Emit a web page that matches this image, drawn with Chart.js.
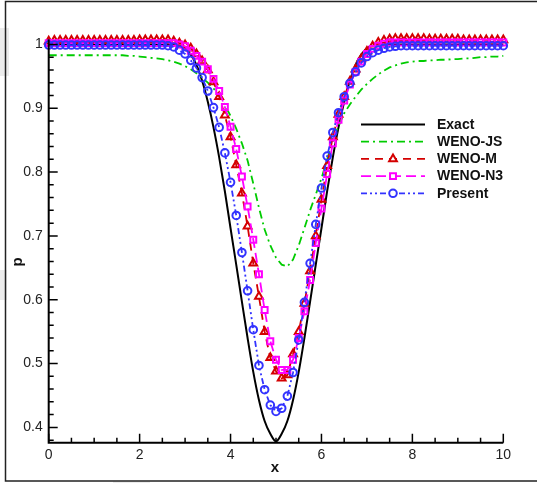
<!DOCTYPE html>
<html lang="en">
<head>
  <meta charset="UTF-8">
  <title>Density profile</title>
  <script src="https://cdn.jsdelivr.net/npm/chart.js@4.4.0/dist/chart.umd.min.js"></script>
  <style>
    html, body { margin: 0; padding: 0; background: #fff; }
    #wrap { width: 537px; height: 483px; }
  </style>
</head>
<body>
<div id="wrap"><canvas id="rhoChart" width="537" height="483"></canvas></div>
<script>
// grid points (dx = 0.125)
const xGrid = [
  0, 0.125, 0.25, 0.375, 0.5, 0.625, 0.75, 0.875, 1, 1.125,
  1.25, 1.375, 1.5, 1.625, 1.75, 1.875, 2, 2.125, 2.25, 2.375,
  2.5, 2.625, 2.75, 2.875, 3, 3.125, 3.25, 3.375, 3.5, 3.625,
  3.75, 3.875, 4, 4.125, 4.25, 4.375, 4.5, 4.625, 4.75, 4.875,
  5, 5.125, 5.25, 5.375, 5.5, 5.625, 5.75, 5.875, 6, 6.125,
  6.25, 6.375, 6.5, 6.625, 6.75, 6.875, 7, 7.125, 7.25, 7.375,
  7.5, 7.625, 7.75, 7.875, 8, 8.125, 8.25, 8.375, 8.5, 8.625,
  8.75, 8.875, 9, 9.125, 9.25, 9.375, 9.5, 9.625, 9.75, 9.875,
  10
];

const exactRho = [
  1, 1, 1, 1, 1, 1, 1, 1, 1, 1,
  1, 1, 1, 1, 1, 1, 1, 1, 1, 1,
  1, 1, 1, 0.998, 0.994, 0.984, 0.968, 0.943, 0.91, 0.87,
  0.823, 0.77, 0.712, 0.655, 0.597, 0.54, 0.487, 0.443, 0.41, 0.39,
  0.378, 0.39, 0.41, 0.443, 0.487, 0.54, 0.597, 0.655, 0.712, 0.77,
  0.823, 0.87, 0.91, 0.943, 0.968, 0.984, 0.994, 0.998, 1, 1,
  1, 1, 1, 1, 1, 1, 1, 1, 1, 1,
  1, 1, 1, 1, 1, 1, 1, 1, 1, 1,
  1
];

const wenoJS = [
  0.983, 0.983, 0.983, 0.983, 0.983, 0.983, 0.983, 0.983, 0.983, 0.983,
  0.983, 0.983, 0.983, 0.983, 0.982, 0.982, 0.981, 0.98, 0.979, 0.978,
  0.977, 0.975, 0.973, 0.97, 0.966, 0.961, 0.955, 0.948, 0.94, 0.931,
  0.92, 0.905, 0.888, 0.868, 0.845, 0.818, 0.782, 0.744, 0.71, 0.685,
  0.666, 0.655, 0.652, 0.663, 0.685, 0.712, 0.74, 0.765, 0.79, 0.82,
  0.848, 0.872, 0.892, 0.906, 0.918, 0.929, 0.938, 0.946, 0.953, 0.959,
  0.964, 0.967, 0.97, 0.972, 0.973, 0.974, 0.974, 0.975, 0.975, 0.976,
  0.976, 0.977, 0.977, 0.978, 0.978, 0.979, 0.98, 0.98, 0.981, 0.981,
  0.982
];

const wenoM = [
  1.005, 1.006, 1.006, 1.006, 1.006, 1.006, 1.006, 1.006, 1.006, 1.006,
  1.006, 1.006, 1.006, 1.006, 1.006, 1.006, 1.007, 1.007, 1.007, 1.007,
  1.007, 1.007, 1.005, 1.002, 0.999, 0.994, 0.985, 0.974, 0.96, 0.941,
  0.918, 0.889, 0.855, 0.811, 0.767, 0.715, 0.657, 0.605, 0.55, 0.509,
  0.488, 0.477, 0.482, 0.515, 0.55, 0.594, 0.645, 0.7, 0.757, 0.81,
  0.855, 0.89, 0.918, 0.942, 0.961, 0.977, 0.989, 0.997, 1.003, 1.006,
  1.008, 1.009, 1.009, 1.009, 1.009, 1.009, 1.009, 1.008, 1.008, 1.008,
  1.008, 1.008, 1.008, 1.007, 1.007, 1.007, 1.007, 1.007, 1.007, 1.007,
  1.007
];

const wenoN3 = [
  1.002, 1.002, 1.002, 1.002, 1.002, 1.002, 1.002, 1.002, 1.002, 1.002,
  1.002, 1.002, 1.002, 1.002, 1.002, 1.002, 1.002, 1.002, 1.002, 1.002,
  1.002, 1.002, 1.002, 1.0, 0.997, 0.99, 0.982, 0.973, 0.961, 0.946,
  0.927, 0.902, 0.871, 0.836, 0.793, 0.746, 0.694, 0.64, 0.584, 0.535,
  0.506, 0.49, 0.49, 0.506, 0.54, 0.582, 0.631, 0.689, 0.743, 0.797,
  0.845, 0.882, 0.912, 0.937, 0.957, 0.973, 0.985, 0.993, 0.998, 1.001,
  1.003, 1.003, 1.003, 1.003, 1.003, 1.003, 1.003, 1.003, 1.003, 1.003,
  1.003, 1.003, 1.003, 1.003, 1.003, 1.003, 1.003, 1.003, 1.003, 1.003,
  1.003
];

const present = [
  0.999, 0.999, 0.999, 0.999, 0.999, 0.999, 0.999, 0.999, 0.999, 0.999,
  0.999, 0.999, 0.999, 0.999, 0.999, 0.999, 0.999, 0.999, 0.999, 0.999,
  0.999, 0.998, 0.996, 0.991, 0.985, 0.975, 0.963, 0.948, 0.927, 0.901,
  0.87, 0.83, 0.784, 0.732, 0.674, 0.614, 0.553, 0.497, 0.459, 0.435,
  0.425, 0.43, 0.449, 0.486, 0.537, 0.596, 0.657, 0.718, 0.775, 0.825,
  0.862, 0.893, 0.918, 0.939, 0.957, 0.971, 0.981, 0.987, 0.991, 0.994,
  0.996, 0.997, 0.998, 0.998, 0.998, 0.998, 0.998, 0.998, 0.998, 0.998,
  0.998, 0.998, 0.998, 0.998, 0.998, 0.998, 0.998, 0.998, 0.998, 0.998,
  0.998
];

const seriesNames = ['Exact', 'WENO-JS', 'WENO-M', 'WENO-N3', 'Present'];
const xTickValues = [0, 2, 4, 6, 8, 10];
const yTickValues = [0.4, 0.5, 0.6, 0.7, 0.8, 0.9, 1];

const toPoints = ys => xGrid.map((x, i) => ({ x: x, y: ys[i] }));
const hollow = 'rgba(0,0,0,0)';

// background, light page shading and outer frame
const framePlugin = {
  id: 'frame',
  beforeDraw(chart) {
    const ctx = chart.ctx;
    ctx.save();
    ctx.fillStyle = '#fff';
    ctx.fillRect(0, 0, chart.width, chart.height);
    ctx.fillStyle = '#ececec';
    ctx.fillRect(0, 28, 9, 48);
    ctx.fillRect(0, 270, 7, 30);
    ctx.fillRect(50, 0, 40, 2);
    ctx.fillRect(113, 481, 37, 2);
    ctx.strokeStyle = '#222';
    ctx.lineWidth = 1.5;
    ctx.beginPath();
    ctx.moveTo(537, 1.5);
    ctx.lineTo(5.5, 1.5);
    ctx.lineTo(5.5, 481);
    ctx.lineTo(537, 481);
    ctx.stroke();
    ctx.restore();
  }
};

// left/bottom axis lines with inward major and minor ticks, axis titles
const axesPlugin = {
  id: 'axesInward',
  afterDatasetsDraw(chart) {
    const { ctx, chartArea: a, scales: { x, y } } = chart;
    ctx.save();
    ctx.strokeStyle = '#000';
    ctx.lineWidth = 2;
    ctx.beginPath();
    ctx.moveTo(a.left, a.top);
    ctx.lineTo(a.left, a.bottom);
    ctx.lineTo(a.right, a.bottom);
    ctx.stroke();

    ctx.lineWidth = 1.5;
    ctx.beginPath();
    for (let v = 0; v <= 10.001; v += 0.5) {
      const px = x.getPixelForValue(v);
      const len = xTickValues.some(t => Math.abs(t - v) < 1e-6) ? 9 : 5;
      ctx.moveTo(px, a.bottom);
      ctx.lineTo(px, a.bottom - len);
    }
    for (let k = 19; k <= 50; k++) {
      const v = k * 0.02;
      const py = y.getPixelForValue(v);
      const len = yTickValues.some(t => Math.abs(t - v) < 1e-6) ? 9 : 5;
      ctx.moveTo(a.left, py);
      ctx.lineTo(a.left + len, py);
    }
    ctx.stroke();

    ctx.fillStyle = '#111';
    ctx.font = 'bold 15px "Liberation Sans", Arial, sans-serif';
    ctx.textAlign = 'center';
    ctx.textBaseline = 'middle';
    ctx.fillText('x', 275, 468);
    ctx.translate(18, 262);
    ctx.rotate(-Math.PI / 2);
    ctx.fillText('p', 0, 0);
    ctx.restore();
  }
};

// legend block inside the plot
const legendPlugin = {
  id: 'legendBlock',
  afterDraw(chart) {
    const ctx = chart.ctx;
    const x0 = 361, x1 = 425, tx = 437, top = 124.5, step = 17.2;
    chart.data.datasets.forEach((ds, i) => {
      const yy = top + i * step;
      ctx.save();
      ctx.strokeStyle = ds.borderColor;
      ctx.lineWidth = ds.borderWidth;
      ctx.setLineDash(ds.borderDash || []);
      ctx.beginPath();
      ctx.moveTo(x0, yy);
      ctx.lineTo(x1, yy);
      ctx.stroke();
      if (ds.pointRadius > 0) {
        ctx.setLineDash([]);
        ctx.fillStyle = '#fff';
        ctx.lineWidth = ds.pointBorderWidth;
        Chart.helpers.drawPoint(ctx, {
          pointStyle: ds.pointStyle, radius: ds.pointRadius,
          borderWidth: ds.pointBorderWidth, rotation: 0
        }, (x0 + x1) / 2, yy);
      }
      ctx.fillStyle = '#111';
      ctx.font = 'bold 14px "Liberation Sans", Arial, sans-serif';
      ctx.textAlign = 'left';
      ctx.textBaseline = 'middle';
      ctx.fillText(ds.label, tx, yy + 0.5);
      ctx.restore();
    });
  }
};

Chart.defaults.font.family = '"Liberation Sans", Arial, sans-serif';
Chart.defaults.font.size = 14;
Chart.defaults.color = '#222';

new Chart(document.getElementById('rhoChart'), {
  type: 'line',
  data: {
    datasets: [
      {
        label: seriesNames[0], data: toPoints(exactRho),
        borderColor: '#000', borderWidth: 2, pointRadius: 0,
        cubicInterpolationMode: 'monotone', order: 4
      },
      {
        label: seriesNames[1], data: toPoints(wenoJS),
        borderColor: '#00cc00', borderWidth: 1.8, borderDash: [8, 4, 2, 4],
        pointRadius: 0, order: 3
      },
      {
        label: seriesNames[2], data: toPoints(wenoM),
        borderColor: '#d40000', borderWidth: 1.8, borderDash: [8, 6],
        pointStyle: 'triangle', pointRadius: 4.5, pointBorderWidth: 2,
        pointBorderColor: '#d40000', pointBackgroundColor: hollow, order: 2
      },
      {
        label: seriesNames[3], data: toPoints(wenoN3),
        borderColor: '#ff00ff', borderWidth: 1.8, borderDash: [10, 5],
        pointStyle: 'rect', pointRadius: 4.2, pointBorderWidth: 2,
        pointBorderColor: '#ff00ff', pointBackgroundColor: hollow, order: 1
      },
      {
        label: seriesNames[4], data: toPoints(present),
        borderColor: '#3333ff', borderWidth: 1.8, borderDash: [6, 3, 2, 3, 2, 3],
        pointStyle: 'circle', pointRadius: 3.8, pointBorderWidth: 2,
        pointBorderColor: '#3333ff', pointBackgroundColor: hollow, order: 0
      }
    ]
  },
  options: {
    responsive: false,
    devicePixelRatio: 1,
    animation: false,
    clip: false,
    layout: { padding: { left: 0, right: 33.7, top: 39.3, bottom: 0 } },
    plugins: { legend: { display: false }, tooltip: { enabled: false } },
    scales: {
      x: {
        type: 'linear', min: 0, max: 10,
        grid: { display: false, drawTicks: false },
        border: { display: false },
        afterBuildTicks: s => { s.ticks = xTickValues.map(v => ({ value: v })); },
        afterFit: s => { s.height = 40.3; },
        ticks: { padding: 4, maxRotation: 0, callback: v => String(v) }
      },
      y: {
        type: 'linear', min: 0.376, max: 1.008,
        grid: { display: false, drawTicks: false },
        border: { display: false },
        afterBuildTicks: s => { s.ticks = yTickValues.map(v => ({ value: v })); },
        afterFit: s => { s.width = 48.7; },
        ticks: { padding: 6, callback: v => (v === 1 ? '1' : v.toFixed(1)) }
      }
    }
  },
  plugins: [framePlugin, axesPlugin, legendPlugin]
});
</script>
</body>
</html>
